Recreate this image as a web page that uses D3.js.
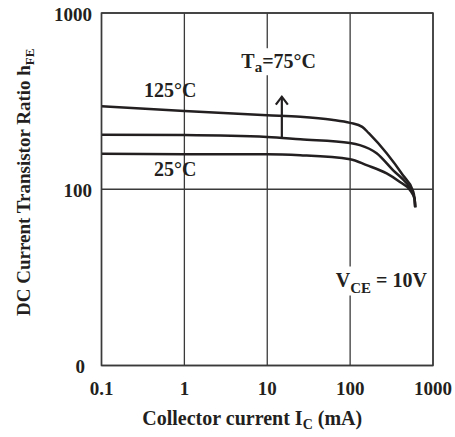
<!DOCTYPE html>
<html>
<head>
<meta charset="utf-8">
<script src="https://cdn.jsdelivr.net/npm/d3@7"></script>
<style>
  body { margin: 0; background: #fff; }
  text { font-family: "Liberation Serif", "Times New Roman", serif; font-weight: bold; fill: #231f20; }
</style>
</head>
<body>
<script>
// hFE vs Ic, three ambient temperatures (mA, hFE)
const curve125 = [[0.1,296],[1,278],[10,263],[25,258],[60,248],[100,238],[140,226],[168,208],[276,160],[434,120],[573,98],[600,88],[610,79]];
const curve75  = [[0.1,204],[1,203],[10,198],[25,192],[100,183],[131,178],[209,160],[331,128],[481,108],[540,100],[600,88],[610,79]];
const curve25  = [[0.1,159],[1,158],[10,158],[25,156],[100,148],[158,137],[276,123],[399,110],[527,99],[600,88],[610,79]];
const curves = [curve125, curve75, curve25];

const xTicks = [0.1, 1, 10, 100, 1000];
const xTickLabels = ['0.1', '1', '10', '100', '1000'];
const yTicks = [10, 100, 1000];
const yTickLabels = ['0', '100', '1000'];

// arrow from the 75°C curve upward (Ic, hFE from, hFE to)
const arrow = [15, 197, 335];

const width = 455, height = 437;
const margin = {left: 101.5, right: 22, top: 13, bottom: 71.5};

const svg = d3.select('body').append('svg')
              .attr('width', width)
              .attr('height', height);

const x = d3.scaleLog().domain([0.1, 1000]).range([margin.left, width - margin.right]);
const y = d3.scaleLog().domain([10, 1000]).range([height - margin.bottom, margin.top]);

// grid
const grid = svg.append('g').style('stroke', '#3a3a3a').style('stroke-width', 1.3);
grid.selectAll('.vx').data(xTicks).join('line')
    .attr('x1', d => x(d)).attr('x2', d => x(d))
    .attr('y1', y(10)).attr('y2', y(1000));
grid.selectAll('.hy').data(yTicks).join('line')
    .attr('y1', d => y(d)).attr('y2', d => y(d))
    .attr('x1', x(0.1)).attr('x2', x(1000));

// tick labels
svg.append('g').selectAll('text').data(xTicks).join('text')
   .attr('x', d => x(d)).attr('y', y(10) + 29.5)
   .attr('text-anchor', 'middle').style('font-size', '19px')
   .text((d, i) => xTickLabels[i]);
svg.append('g').selectAll('text').data(yTicks).join('text')
   .attr('x', (d, i) => x(0.1) - (yTickLabels[i] === '0' ? 16.5 : 9.5))
   .attr('y', d => y(d) + 7.5)
   .attr('text-anchor', 'end').style('font-size', '19px')
   .text((d, i) => yTickLabels[i]);

// curves
const line = d3.line().x(d => x(d[0])).y(d => y(d[1])).curve(d3.curveMonotoneX);
svg.append('g').selectAll('path').data(curves).join('path')
   .attr('d', line)
   .style('fill', 'none').style('stroke', '#231f20').style('stroke-width', 2.5);

// axis titles
const xt = svg.append('text').attr('x', (x(0.1) + x(1000)) / 2 - 15).attr('y', 425)
   .attr('text-anchor', 'middle').style('font-size', '20px');
xt.append('tspan').text('Collector current I');
xt.append('tspan').attr('dy', 4).style('font-size', '14px').text('C');
xt.append('tspan').attr('dy', -4).text(' (mA)');

const yt = svg.append('text').attr('transform', 'translate(30,' + ((y(10) + y(1000)) / 2 - 7) + ') rotate(-90)')
   .attr('text-anchor', 'middle').style('font-size', '19px');
yt.append('tspan').text('DC Current Transistor Ratio h');
yt.append('tspan').attr('dy', 4).style('font-size', '13px').text('FE');

// temperature labels
svg.append('text').attr('x', x(1.4)).attr('y', y(334)).attr('text-anchor', 'end')
   .style('font-size', '20px').text('125°C');
svg.append('text').attr('x', x(1.4)).attr('y', y(119)).attr('text-anchor', 'end')
   .style('font-size', '20px').text('25°C');

function boxedLabel(px, py, parts) {
  const g = svg.append('g');
  const bg = g.append('rect').style('fill', '#fff');
  const t = g.append('text').attr('x', px).attr('y', py).style('font-size', '20px');
  parts.forEach(p => {
    t.append('tspan').attr('dy', p.dy || 0).style('font-size', p.size || '20px').text(p.t);
  });
  const b = t.node().getBBox();
  bg.attr('x', b.x - 3).attr('y', b.y - 2).attr('width', b.width + 6).attr('height', b.height + 2);
}
boxedLabel(x(15) - 40.5, y(486), [{t: 'T'}, {t: 'a', dy: 4, size: '15px'}, {t: '=75°C', dy: -4}]);
boxedLabel(x(140) - 26.5, y(10) - 79, [{t: 'V'}, {t: 'CE', dy: 6, size: '15px'}, {t: ' = 10V', dy: -6}]);

// arrow
const ag = svg.append('g').style('stroke', '#231f20').style('stroke-width', 2.2).style('fill', 'none');
ag.append('line').attr('x1', x(arrow[0])).attr('x2', x(arrow[0]))
  .attr('y1', y(arrow[1])).attr('y2', y(arrow[2]));
ag.append('path')
  .attr('d', `M${x(arrow[0]) - 6},${y(arrow[2]) + 8}L${x(arrow[0])},${y(arrow[2])}L${x(arrow[0]) + 6},${y(arrow[2]) + 8}`);

// frame
svg.append('rect').attr('x', x(0.1)).attr('y', y(1000))
   .attr('width', x(1000) - x(0.1)).attr('height', y(10) - y(1000))
   .style('fill', 'none').style('stroke', '#3a3a3a').style('stroke-width', 1.5);
</script>
</body>
</html>
